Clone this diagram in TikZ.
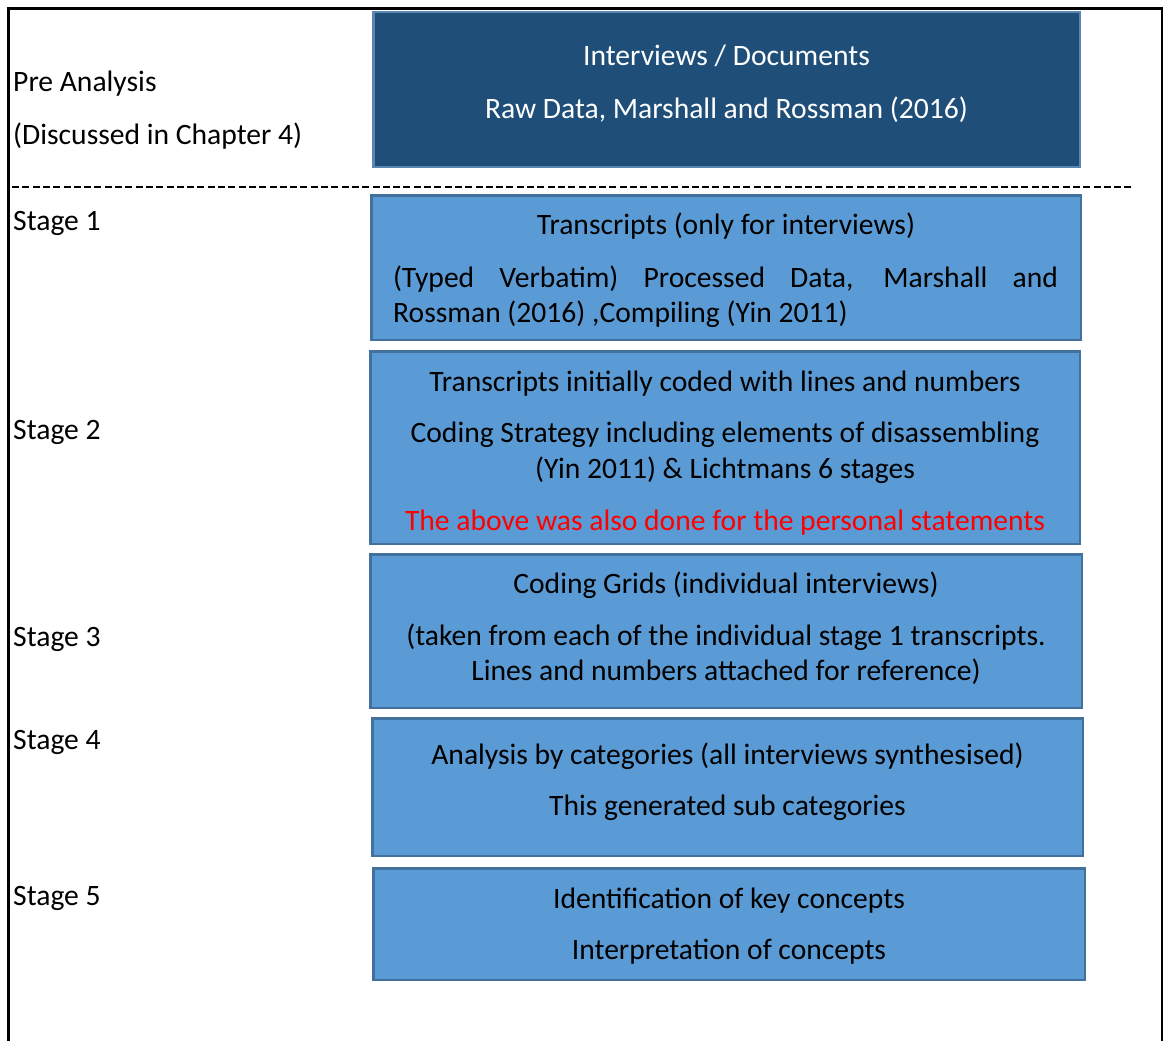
\documentclass[tikz,border=0pt]{standalone}
\usepackage{fontspec}
\setmainfont{Carlito}
\definecolor{darkfill}{HTML}{1F4E79}
\definecolor{darkedge}{HTML}{5A86B4}
\definecolor{lightfill}{HTML}{5B9BD5}
\definecolor{lightedge}{HTML}{41719C}
\begin{document}
\begin{tikzpicture}[x=1pt,y=-1pt,
  txt/.style={inner sep=0pt,font=\fontsize{29.6}{35}\selectfont},
  label/.style={txt,anchor=base west},
  ctr/.style={txt,anchor=base},
  darkbox/.style={draw=darkedge,fill=darkfill,line width=2.5pt,inner sep=0pt},
  lightbox/.style={draw=lightedge,fill=lightfill,line width=2.5pt,inner sep=0pt}]
\useasboundingbox (0,0) rectangle (1163,1041);
% outer frame
\coordinate (fbl) at (8.5,1045);
\coordinate (ftl) at (8.5,8.5);
\coordinate (ftr) at (1162,8.5);
\coordinate (fbr) at (1162,1045);
\draw[line width=2.8pt] (fbl) -- (ftl) -- (ftr) -- (fbr);
% dashed separator
\coordinate (dl) at (12,187);
\coordinate (dr) at (1134,187);
\draw[line width=1.4pt,dash pattern=on 7pt off 3.3pt] (dl) -- (dr);
% boxes
\node[darkbox,minimum width=706.5pt,minimum height=154.5pt] (b0) at (726.5,89.5) {};
\node[lightbox,minimum width=709.5pt,minimum height=144.5pt] (b1) at (726,267.5) {};
\node[lightbox,minimum width=709.5pt,minimum height=192.5pt] (b2) at (725,447.5) {};
\node[lightbox,minimum width=711.5pt,minimum height=153.5pt] (b3) at (726,631) {};
\node[lightbox,minimum width=710.5pt,minimum height=137.5pt] (b4) at (727.5,787) {};
\node[lightbox,minimum width=711.5pt,minimum height=111.5pt] (b5) at (729,924) {};
% left labels
\node[label] (l0a) at (13,92) {Pre Analysis};
\node[label] (l0b) at (13,144) {(Discussed in Chapter 4)};
\node[label] (l1) at (13,230) {Stage 1};
\node[label] (l2) at (13,439) {Stage 2};
\node[label] (l3) at (13,646) {Stage 3};
\node[label] (l4) at (13,749) {Stage 4};
\node[label] (l5) at (13,905) {Stage 5};
% box 0
\node[ctr,text=white] (t0a) at (726.5,66) {Interviews / Documents};
\node[ctr,text=white] (t0b) at (726.5,118) {Raw Data, Marshall and Rossman (2016)};
% box 1
\node[ctr] (t1a) at (726,234) {Transcripts (only for interviews)};
\node[ctr] (t1b) at (725.5,287) {\makebox[665pt][s]{(Typed Verbatim) Processed Data, Marshall and}};
\node[label] (t1c) at (393,322) {Rossman (2016) ,Compiling (Yin 2011)};
% box 2
\node[ctr] (t2a) at (725,391) {Transcripts initially coded with lines and numbers};
\node[ctr] (t2b) at (725,442) {Coding Strategy including elements of disassembling};
\node[ctr] (t2c) at (725,478) {(Yin 2011) \& Lichtmans 6 stages};
\node[ctr,text=red] (t2d) at (725,530) {The above was also done for the personal statements};
% box 3
\node[ctr] (t3a) at (726,593) {Coding Grids (individual interviews)};
\node[ctr] (t3b) at (726,645) {(taken from each of the individual stage 1 transcripts.};
\node[ctr] (t3c) at (726,680) {Lines and numbers attached for reference)};
% box 4
\node[ctr] (t4a) at (727.5,764) {Analysis by categories (all interviews synthesised)};
\node[ctr] (t4b) at (727.5,815) {This generated sub categories};
% box 5
\node[ctr] (t5a) at (729,908) {Identification of key concepts};
\node[ctr] (t5b) at (729,959) {Interpretation of concepts};
\end{tikzpicture}
\end{document}
